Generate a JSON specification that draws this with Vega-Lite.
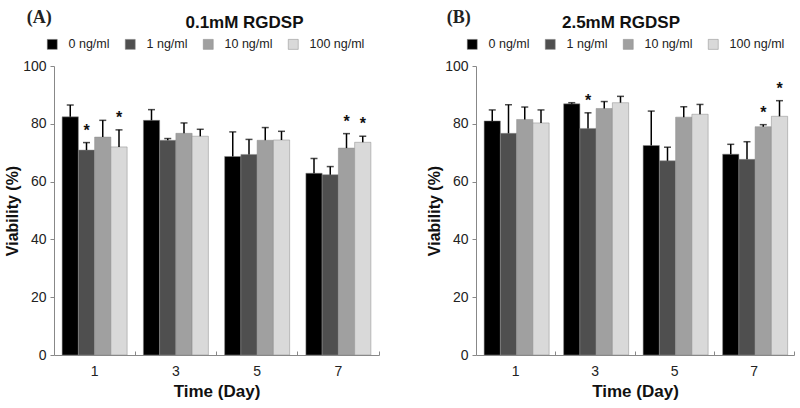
{
  "$schema": "https://vega.github.io/schema/vega-lite/v6.json",
  "background": "white",
  "padding": {"left": 4, "top": 9, "right": 4, "bottom": 4},
  "config": {
    "view": {"stroke": null},
    "font": "Liberation Sans",
    "axis": {"grid": false, "domainColor": "#888888", "tickColor": "#888888", "labelColor": "#222222", "titleColor": "#111111", "labelFont": "Liberation Sans", "titleFont": "Liberation Sans"},
    "legend": {"labelFont": "Liberation Sans"}
  },
  "datasets": {
    "d": [
      {"p": "A", "day": "1", "conc": "0 ng/ml", "v": 82.4, "hi": 86.5, "sig": ""},
      {"p": "A", "day": "1", "conc": "1 ng/ml", "v": 70.9, "hi": 73.5, "sig": "*"},
      {"p": "A", "day": "1", "conc": "10 ng/ml", "v": 75.4, "hi": 81.2, "sig": ""},
      {"p": "A", "day": "1", "conc": "100 ng/ml", "v": 72.0, "hi": 77.9, "sig": "*"},
      {"p": "A", "day": "3", "conc": "0 ng/ml", "v": 81.2, "hi": 84.9, "sig": ""},
      {"p": "A", "day": "3", "conc": "1 ng/ml", "v": 74.3, "hi": 74.9, "sig": ""},
      {"p": "A", "day": "3", "conc": "10 ng/ml", "v": 76.7, "hi": 80.3, "sig": ""},
      {"p": "A", "day": "3", "conc": "100 ng/ml", "v": 75.7, "hi": 78.1, "sig": ""},
      {"p": "A", "day": "5", "conc": "0 ng/ml", "v": 68.7, "hi": 77.2, "sig": ""},
      {"p": "A", "day": "5", "conc": "1 ng/ml", "v": 69.4, "hi": 74.6, "sig": ""},
      {"p": "A", "day": "5", "conc": "10 ng/ml", "v": 74.3, "hi": 78.7, "sig": ""},
      {"p": "A", "day": "5", "conc": "100 ng/ml", "v": 74.4, "hi": 77.4, "sig": ""},
      {"p": "A", "day": "7", "conc": "0 ng/ml", "v": 62.9, "hi": 68.0, "sig": ""},
      {"p": "A", "day": "7", "conc": "1 ng/ml", "v": 62.4, "hi": 65.2, "sig": ""},
      {"p": "A", "day": "7", "conc": "10 ng/ml", "v": 71.6, "hi": 76.6, "sig": "*"},
      {"p": "A", "day": "7", "conc": "100 ng/ml", "v": 73.6, "hi": 75.7, "sig": "*"},
      {"p": "B", "day": "1", "conc": "0 ng/ml", "v": 81.0, "hi": 84.8, "sig": ""},
      {"p": "B", "day": "1", "conc": "1 ng/ml", "v": 76.7, "hi": 86.6, "sig": ""},
      {"p": "B", "day": "1", "conc": "10 ng/ml", "v": 81.5, "hi": 85.8, "sig": ""},
      {"p": "B", "day": "1", "conc": "100 ng/ml", "v": 80.3, "hi": 84.8, "sig": ""},
      {"p": "B", "day": "3", "conc": "0 ng/ml", "v": 86.9, "hi": 87.3, "sig": ""},
      {"p": "B", "day": "3", "conc": "1 ng/ml", "v": 78.4, "hi": 83.8, "sig": "*"},
      {"p": "B", "day": "3", "conc": "10 ng/ml", "v": 85.3, "hi": 87.7, "sig": ""},
      {"p": "B", "day": "3", "conc": "100 ng/ml", "v": 87.3, "hi": 89.5, "sig": ""},
      {"p": "B", "day": "5", "conc": "0 ng/ml", "v": 72.5, "hi": 84.4, "sig": ""},
      {"p": "B", "day": "5", "conc": "1 ng/ml", "v": 67.2, "hi": 71.9, "sig": ""},
      {"p": "B", "day": "5", "conc": "10 ng/ml", "v": 82.3, "hi": 85.9, "sig": ""},
      {"p": "B", "day": "5", "conc": "100 ng/ml", "v": 83.3, "hi": 86.7, "sig": ""},
      {"p": "B", "day": "7", "conc": "0 ng/ml", "v": 69.5, "hi": 72.9, "sig": ""},
      {"p": "B", "day": "7", "conc": "1 ng/ml", "v": 67.7, "hi": 73.8, "sig": ""},
      {"p": "B", "day": "7", "conc": "10 ng/ml", "v": 79.0, "hi": 79.7, "sig": "*"},
      {"p": "B", "day": "7", "conc": "100 ng/ml", "v": 82.6, "hi": 88.0, "sig": "*"}
    ]
  },
  "spacing": 46,
  "resolve": {"scale": {"color": "independent", "x": "independent", "y": "independent"}, "legend": {"color": "independent"}},
  "hconcat": [
    {
      "title": {"text": "(A)", "anchor": "start", "font": "Liberation Serif", "fontSize": 18, "fontWeight": "bold", "color": "#222222", "offset": -13, "dx": 22},
      "resolve": {"scale": {"color": "independent"}, "legend": {"color": "independent"}},
      "hconcat": [
        {
          "width": 325,
          "height": 289,
          "data": {"name": "d"},
          "transform": [{"filter": "datum.p == 'A'"}],
          "title": {"text": "0.1mM RGDSP", "fontSize": 17, "fontWeight": "bold", "color": "#111111", "dx": 28, "offset": 6},
          "encoding": {
            "x": {"field": "day", "type": "ordinal", "scale": {"paddingInner": 0, "paddingOuter": 0},
              "axis": {"title": "Time (Day)", "titleFontSize": 17, "titleFontWeight": "bold", "titlePadding": 5, "labelAngle": 0, "labelFontSize": 14, "bandPosition": 1, "tickSize": -4, "labelPadding": 13}},
            "xOffset": {"field": "conc", "type": "nominal", "scale": {"domain": ["0 ng/ml", "1 ng/ml", "10 ng/ml", "100 ng/ml"], "paddingInner": 0, "paddingOuter": 0.5}}
          },
          "layer": [
            {
              "mark": {"type": "bar", "stroke": "#8a8a8a", "strokeWidth": 0.5},
              "encoding": {
                "y": {"field": "v", "type": "quantitative", "scale": {"domain": [0, 100], "nice": false},
                  "axis": {"title": "Viability (%)", "titleFontSize": 16, "titleFontWeight": "bold", "titlePadding": 2, "labelFontSize": 14, "tickSize": 4, "labelPadding": 4, "values": [0, 20, 40, 60, 80, 100]}},
                "color": {"field": "conc", "type": "nominal", "scale": {"domain": ["0 ng/ml", "1 ng/ml", "10 ng/ml", "100 ng/ml"], "range": ["#000000", "#4f4f4f", "#a0a0a0", "#d9d9d9"]},
                  "legend": {"title": null, "orient": "none", "legendX": -8, "legendY": -28, "direction": "horizontal", "symbolType": "square", "symbolSize": 100, "symbolStrokeColor": "#888888", "symbolStrokeWidth": 0.5, "labelFontSize": 12.5, "labelColor": "#222222", "labelOffset": 10, "columnPadding": 14}}
              }
            },
            {
              "mark": {"type": "rule", "color": "#000000", "strokeWidth": 1.5},
              "encoding": {"y": {"field": "v", "type": "quantitative"}, "y2": {"field": "hi"}}
            },
            {
              "mark": {"type": "tick", "color": "#000000", "thickness": 1.5, "size": 7},
              "encoding": {"y": {"field": "hi", "type": "quantitative"}}
            },
            {
              "mark": {"type": "text", "fontSize": 16, "fontWeight": "bold", "color": "#111111", "baseline": "alphabetic", "dy": -7},
              "encoding": {"y": {"field": "hi", "type": "quantitative"}, "text": {"field": "sig"}}
            }
          ]
        }
      ]
    },
    {
      "title": {"text": "(B)", "anchor": "start", "font": "Liberation Serif", "fontSize": 18, "fontWeight": "bold", "color": "#222222", "offset": -13, "dx": 20},
      "resolve": {"scale": {"color": "independent"}, "legend": {"color": "independent"}},
      "hconcat": [
        {
          "width": 318,
          "height": 289,
          "data": {"name": "d"},
          "transform": [{"filter": "datum.p == 'B'"}],
          "title": {"text": "2.5mM RGDSP", "fontSize": 17, "fontWeight": "bold", "color": "#111111", "dx": -14, "offset": 6},
          "encoding": {
            "x": {"field": "day", "type": "ordinal", "scale": {"paddingInner": 0, "paddingOuter": 0},
              "axis": {"title": "Time (Day)", "titleFontSize": 17, "titleFontWeight": "bold", "titlePadding": 5, "labelAngle": 0, "labelFontSize": 14, "bandPosition": 1, "tickSize": -4, "labelPadding": 13}},
            "xOffset": {"field": "conc", "type": "nominal", "scale": {"domain": ["0 ng/ml", "1 ng/ml", "10 ng/ml", "100 ng/ml"], "paddingInner": 0, "paddingOuter": 0.45}}
          },
          "layer": [
            {
              "mark": {"type": "bar", "stroke": "#8a8a8a", "strokeWidth": 0.5},
              "encoding": {
                "y": {"field": "v", "type": "quantitative", "scale": {"domain": [0, 100], "nice": false},
                  "axis": {"title": "Viability (%)", "titleFontSize": 16, "titleFontWeight": "bold", "titlePadding": 2, "labelFontSize": 14, "tickSize": 4, "labelPadding": 4, "values": [0, 20, 40, 60, 80, 100]}},
                "color": {"field": "conc", "type": "nominal", "scale": {"domain": ["0 ng/ml", "1 ng/ml", "10 ng/ml", "100 ng/ml"], "range": ["#000000", "#4f4f4f", "#a0a0a0", "#d9d9d9"]},
                  "legend": {"title": null, "orient": "none", "legendX": -10, "legendY": -28, "direction": "horizontal", "symbolType": "square", "symbolSize": 100, "symbolStrokeColor": "#888888", "symbolStrokeWidth": 0.5, "labelFontSize": 12.5, "labelColor": "#222222", "labelOffset": 10, "columnPadding": 14}}
              }
            },
            {
              "mark": {"type": "rule", "color": "#000000", "strokeWidth": 1.5},
              "encoding": {"y": {"field": "v", "type": "quantitative"}, "y2": {"field": "hi"}}
            },
            {
              "mark": {"type": "tick", "color": "#000000", "thickness": 1.5, "size": 7},
              "encoding": {"y": {"field": "hi", "type": "quantitative"}}
            },
            {
              "mark": {"type": "text", "fontSize": 16, "fontWeight": "bold", "color": "#111111", "baseline": "alphabetic", "dy": -7},
              "encoding": {"y": {"field": "hi", "type": "quantitative"}, "text": {"field": "sig"}}
            }
          ]
        }
      ]
    }
  ]
}
